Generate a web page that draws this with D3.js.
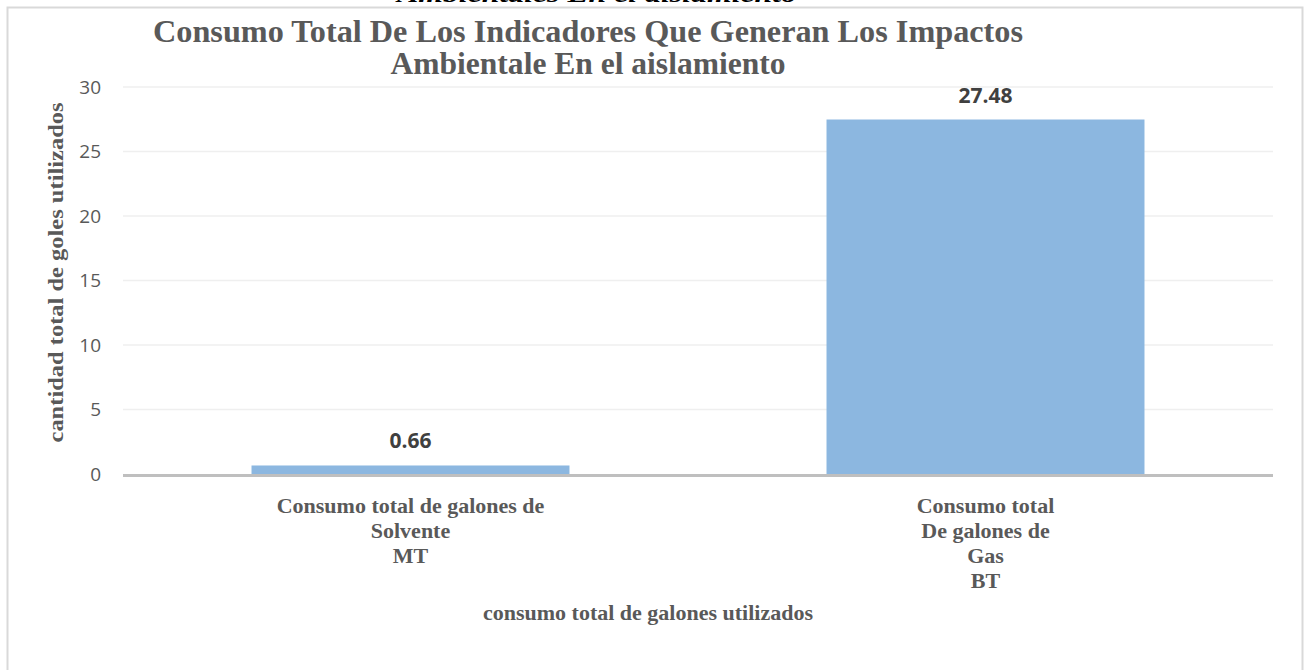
<!DOCTYPE html>
<html>
<head>
<meta charset="utf-8">
<script src="https://cdn.jsdelivr.net/npm/d3@7"></script>
<style>
  body { margin: 0; background: #fff; }
</style>
</head>
<body>
<div id="chart"></div>
<script>
// chart values
var categories = ['Solvente', 'Gas']
var values = [0.66, 27.48]
var valueLabels = ['0.66', '27.48']
var categoryLines = [
  ['Consumo total de galones de', 'Solvente', 'MT'],
  ['Consumo total', 'De galones de', 'Gas', 'BT']
]
var yTicks = [0, 5, 10, 15, 20, 25, 30]
var titleLines = ['Consumo Total De Los Indicadores Que Generan Los Impactos', 'Ambientale En el aislamiento']
var yTitle = 'cantidad total de goles utilizados'
var xTitle = 'consumo total de galones utilizados'

var svgWidth = 1309
var svgHeight = 670

var margin = { top: 87, right: 36, bottom: 196, left: 123 }
var chartWidth = svgWidth - margin.left - margin.right
var chartHeight = svgHeight - margin.top - margin.bottom

var svg = d3.select('#chart')
  .append('svg')
  .attr('width', svgWidth)
  .attr('height', svgHeight)

// outer frame
svg.append('rect')
  .attr('x', 7.5)
  .attr('y', 7.5)
  .attr('width', 1295)
  .attr('height', 700)
  .attr('fill', 'none')
  .attr('stroke', '#d9d9d9')
  .attr('stroke-width', 2)

// clipped text left over above the frame
svg.append('text')
  .attr('x', 397)
  .attr('y', 1.5)
  .attr('font-family', 'Liberation Serif')
  .attr('font-weight', 'bold')
  .attr('font-style', 'italic')
  .attr('font-size', 24)
  .attr('textLength', 400)
  .attr('lengthAdjust', 'spacingAndGlyphs')
  .attr('fill', '#000')
  .text('Ambientales En el aislamiento')

// title, two lines
var titleWidths = [870, 395]
svg.selectAll('.title')
  .data(titleLines)
  .enter()
  .append('text')
  .attr('class', 'title')
  .attr('x', 588)
  .attr('y', (d, i) => 42 + i * 32)
  .attr('text-anchor', 'middle')
  .attr('font-family', 'Liberation Serif')
  .attr('font-weight', 'bold')
  .attr('font-size', 31)
  .attr('textLength', (d, i) => titleWidths[i])
  .attr('lengthAdjust', 'spacingAndGlyphs')
  .attr('fill', '#595959')
  .text(d => d)

var chartGroup = svg.append('g')
  .attr('transform', `translate(${margin.left}, ${margin.top})`)

var xBandScale = d3.scaleBand()
  .domain(categories)
  .range([0, chartWidth])
  .paddingInner(0.447)
  .paddingOuter(0.2235)

var yLinearScale = d3.scaleLinear()
  .domain([0, 30])
  .range([chartHeight, 0])

// gridlines
chartGroup.append('g')
  .selectAll('line')
  .data(yTicks.slice(1))
  .enter()
  .append('line')
  .attr('x1', 0)
  .attr('x2', chartWidth)
  .attr('y1', d => yLinearScale(d))
  .attr('y2', d => yLinearScale(d))
  .attr('stroke', '#efefef')
  .attr('stroke-width', 1.5)

// y axis labels
var leftAxis = d3.axisLeft(yLinearScale)
  .tickValues(yTicks)
  .tickSize(0)
  .tickPadding(22)

var yAxis = chartGroup.append('g').call(leftAxis)
yAxis.select('.domain').remove()
yAxis.selectAll('text')
  .attr('font-family', 'Open Sans')
  .attr('font-size', 19)
  .attr('fill', '#595959')

// bars
chartGroup.selectAll('.bar')
  .data(values)
  .enter()
  .append('rect')
  .attr('class', 'bar')
  .attr('x', (d, i) => xBandScale(categories[i]))
  .attr('y', d => yLinearScale(d))
  .attr('width', xBandScale.bandwidth())
  .attr('height', d => chartHeight - yLinearScale(d))
  .attr('fill', '#8cb7e0')

// baseline
chartGroup.append('line')
  .attr('x1', 0)
  .attr('x2', chartWidth)
  .attr('y1', yLinearScale(0) + 1.5)
  .attr('y2', yLinearScale(0) + 1.5)
  .attr('stroke', '#bfbfbf')
  .attr('stroke-width', 3)

// value labels
chartGroup.selectAll('.valueLabel')
  .data(values)
  .enter()
  .append('text')
  .attr('x', (d, i) => xBandScale(categories[i]) + xBandScale.bandwidth() / 2)
  .attr('y', d => yLinearScale(d) - 17)
  .attr('text-anchor', 'middle')
  .attr('font-family', 'Open Sans')
  .attr('font-weight', 'bold')
  .attr('font-size', 21)
  .attr('fill', '#404040')
  .text((d, i) => valueLabels[i])

// category labels
categoryLines.forEach(function (lines, i) {
  var cx = xBandScale(categories[i]) + xBandScale.bandwidth() / 2
  lines.forEach(function (line, j) {
    chartGroup.append('text')
      .attr('x', cx)
      .attr('y', chartHeight + 39 + j * 25)
      .attr('text-anchor', 'middle')
      .attr('font-family', 'Liberation Serif')
      .attr('font-weight', 'bold')
      .attr('font-size', 22)
      .attr('fill', '#595959')
      .text(line)
  })
})

// axis titles
chartGroup.append('text')
  .attr('x', 525)
  .attr('y', chartHeight + 146)
  .attr('text-anchor', 'middle')
  .attr('font-family', 'Liberation Serif')
  .attr('font-weight', 'bold')
  .attr('font-size', 22)
  .attr('fill', '#595959')
  .text(xTitle)

chartGroup.append('text')
  .attr('transform', `translate(-60, ${chartHeight / 2 - 8}) rotate(-90)`)
  .attr('text-anchor', 'middle')
  .attr('font-family', 'Liberation Serif')
  .attr('font-weight', 'bold')
  .attr('font-size', 22)
  .attr('textLength', 340)
  .attr('lengthAdjust', 'spacingAndGlyphs')
  .attr('fill', '#595959')
  .text(yTitle)
</script>
</body>
</html>
